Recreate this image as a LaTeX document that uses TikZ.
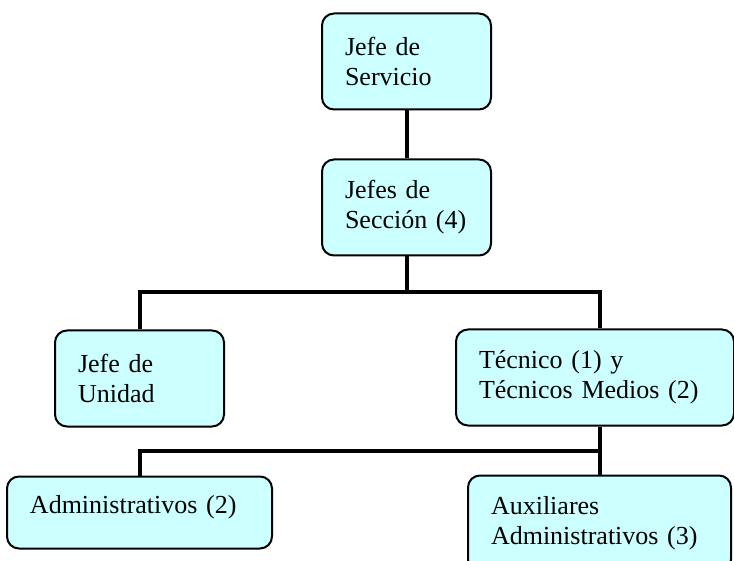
\documentclass[tikz,border=0pt]{standalone}
\usepackage{fontspec}
\setmainfont{Liberation Serif}
\usepackage{tikz}
\usetikzlibrary{positioning}
\definecolor{boxcyan}{HTML}{CCFFFF}

\begin{document}
\begin{tikzpicture}[
    box/.style={rectangle, rounded corners=6pt, draw=black, fill=boxcyan, line width=1pt, align=left, inner xsep=11.5pt, minimum height=48pt, font=\fontsize{13}{15}\selectfont},
    link/.style={line width=2pt}
]
\useasboundingbox (0,0) rectangle (367pt,-280.5pt);

% Nodes
\node (servicio) [box, text width=61.5pt] at (203.25pt,-30.75pt) {Jefe de\\Servicio};
\node (seccion) [box, text width=61.5pt, below=24pt of servicio] {Jefes de\\Secci\'on (4)};

\node (unidad) [box, text width=61.5pt, below left=36.5pt and 48pt of seccion] {Jefe de\\Unidad};
\node (tecnico) [box, text width=116pt, below right=36pt and -18.5pt of seccion] {T\'ecnico (1) y\\T\'ecnicos Medios (2)};

\node (admin) [box, text width=109.5pt, minimum height=36pt, text height=9pt, text depth=8pt, below=24pt of unidad] {Administrativos (2)};
\node (aux) [box, text width=108.5pt, below=24pt of tecnico, xshift=2.25pt] {Auxiliares\\Administrativos (3)};

% Lines
\draw [link] (servicio) -- (seccion);
\draw [link] (seccion.south) -- ++(0,-18pt) coordinate (bus1);
\draw [link] (unidad) |- (bus1) -| (aux.north |- tecnico.north);

\path (aux.north |- tecnico.south) -- ++(0,-12pt) coordinate (bus2);
\draw [link] (aux.north |- tecnico.south) -- (aux.north);
\draw [link] (admin) |- (bus2);

\end{tikzpicture}
\end{document}
